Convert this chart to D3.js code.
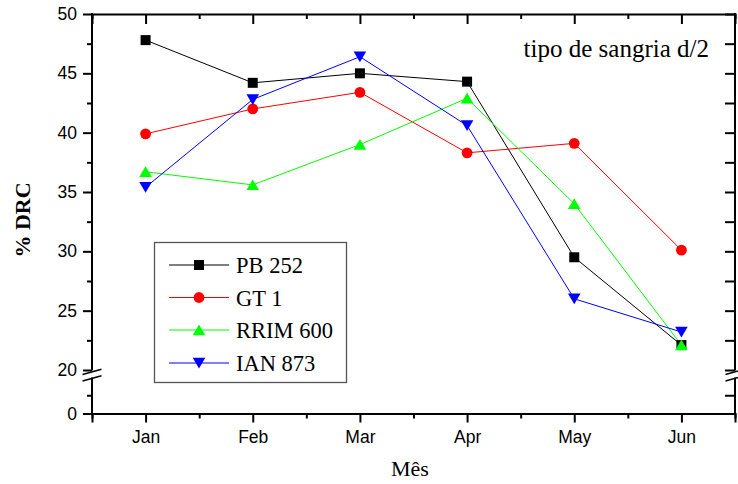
<!DOCTYPE html>
<html>
<head>
<meta charset="utf-8">
<script src="https://cdn.jsdelivr.net/npm/d3@7"></script>
<style>
  html, body { margin: 0; padding: 0; background: #fff; }
  svg { display: block; }
</style>
</head>
<body>
<script>
// Monthly rubber content (% DRC) per clone, tapping system d/2
const months = ["Jan", "Feb", "Mar", "Apr", "May", "Jun"];
const pb252   = [47.8, 44.2, 45.0, 44.3, 29.5, 22.1];
const gt1     = [39.9, 42.0, 43.4, 38.3, 39.1, 30.1];
const rrim600 = [36.7, 35.6, 39.0, 42.9, 34.0, 22.1];
const ian873  = [35.4, 42.8, 46.4, 40.6, 26.0, 23.2];
const seriesNames = ["PB 252", "GT 1", "RRIM 600", "IAN 873"];
const upperTicks = [20, 25, 30, 35, 40, 45, 50];
const lowerTicks = [0];

const W = 738, H = 484;
const plotL = 92, plotR = 735, plotT = 14, plotB = 413.5;

const svg = d3.select("body").append("svg").attr("width", W).attr("height", H);

const x = d3.scaleLinear().domain([0.5, 6.5]).range([plotL, plotR]);
// broken value axis: 20–50 above the break, 0–10 below it
const yUp = d3.scaleLinear().domain([20, 50]).range([370, plotT]);
const yLo = d3.scaleLinear().domain([0, 10]).range([plotB, 377]);

const series = [
  { name: seriesNames[0], values: pb252,   color: "#000000", shape: "square" },
  { name: seriesNames[1], values: gt1,     color: "#ff0000", shape: "circle" },
  { name: seriesNames[2], values: rrim600, color: "#00ff00", shape: "up" },
  { name: seriesNames[3], values: ian873,  color: "#0000ff", shape: "down" }
];

function markerPath(shape) {
  if (shape === "square") return "M-5,-5H5V5H-5Z";
  if (shape === "circle") return d3.symbol(d3.symbolCircle, Math.PI * 5.4 * 5.4)();
  if (shape === "up") return "M0,-5.5L6.3,5.2L-6.3,5.2Z";
  return "M0,5.5L6.3,-5.2L-6.3,-5.2Z";
}

const axisFont = "'Liberation Sans', Arial, sans-serif";
const serifFont = "'Liberation Serif', 'Times New Roman', serif";

// ---- axes ----
const majorMonths = d3.range(1, 7);
const minorMonths = d3.range(0.5, 7, 1);

// bottom
const gB = svg.append("g").attr("transform", `translate(0,${plotB})`);
gB.call(d3.axisBottom(x).tickValues(majorMonths).tickSize(9).tickPadding(8)
  .tickFormat(d => months[d - 1]));
gB.append("g").call(d3.axisBottom(x).tickValues(minorMonths).tickSize(5).tickFormat(""))
  .select(".domain").remove();

// top (inward ticks)
const gT = svg.append("g").attr("transform", `translate(0,${plotT})`);
gT.call(d3.axisBottom(x).tickValues(majorMonths).tickSize(10).tickFormat(""));
gT.append("g").call(d3.axisBottom(x).tickValues(minorMonths).tickSize(5).tickFormat(""))
  .select(".domain").remove();

// left, upper segment
const minorUp = d3.range(22.5, 50, 5);
const gL = svg.append("g").attr("transform", `translate(${plotL},0)`);
gL.call(d3.axisLeft(yUp).tickValues(upperTicks).tickSize(9).tickPadding(6));
gL.append("g").call(d3.axisLeft(yUp).tickValues(minorUp).tickSize(5).tickFormat(""))
  .select(".domain").remove();
// left, lower segment
const gL2 = svg.append("g").attr("transform", `translate(${plotL},0)`);
gL2.call(d3.axisLeft(yLo).tickValues(lowerTicks).tickSize(9).tickPadding(6));
gL2.append("g").call(d3.axisLeft(yLo).tickValues([5]).tickSize(5).tickFormat(""))
  .select(".domain").remove();

// right (inward ticks, no labels)
const gR = svg.append("g").attr("transform", `translate(${plotR},0)`);
gR.call(d3.axisRight(yUp).tickValues(d3.range(20, 50.1, 2.5)).tickSize(-10).tickFormat(""));
const gR2 = svg.append("g").attr("transform", `translate(${plotR},0)`);
gR2.call(d3.axisRight(yLo).tickValues([0, 5]).tickSize(-10).tickFormat(""));

svg.selectAll(".domain").attr("stroke", "#000").attr("stroke-width", 2);
svg.selectAll(".tick line").attr("stroke", "#000").attr("stroke-width", 2);
svg.selectAll(".tick text").attr("font-family", axisFont).attr("font-size", 17.5).attr("fill", "#000");

// vertical frame lines drawn separately so the break gap shows
[gL, gL2, gR, gR2].forEach(g => g.select(".domain").remove());
[plotL, plotR].forEach(px => {
  svg.append("line").attr("x1", px).attr("x2", px).attr("y1", plotT - 1).attr("y2", 370.5)
    .attr("stroke", "#000").attr("stroke-width", 2);
  svg.append("line").attr("x1", px).attr("x2", px).attr("y1", 377.5).attr("y2", plotB + 1)
    .attr("stroke", "#000").attr("stroke-width", 2);
  // break marks
  [0, 6.5].forEach(off => {
    svg.append("line")
      .attr("x1", px - 9.5).attr("y1", 374.5 + off)
      .attr("x2", px + 9.5).attr("y2", 369.2 + off)
      .attr("stroke", "#000").attr("stroke-width", 1.6);
  });
});

// ---- series ----
const line = d3.line().x((d, i) => x(i + 1)).y(d => yUp(d));
series.forEach(s => {
  svg.append("path").datum(s.values).attr("d", line)
    .attr("fill", "none").attr("stroke", s.color).attr("stroke-width", 1);
});
series.forEach(s => {
  svg.append("g").selectAll("path").data(s.values).join("path")
    .attr("transform", (d, i) => `translate(${x(i + 1)},${yUp(d)})`)
    .attr("d", markerPath(s.shape)).attr("fill", s.color);
});

// ---- legend ----
const lg = svg.append("g");
lg.append("rect").attr("x", 154.5).attr("y", 242.5).attr("width", 192).attr("height", 140)
  .attr("fill", "#fff").attr("stroke", "#555").attr("stroke-width", 1.3);
const rowY = [265, 297.5, 330, 363];
series.forEach((s, i) => {
  const gy = rowY[i];
  lg.append("line").attr("x1", 169).attr("x2", 229).attr("y1", gy).attr("y2", gy)
    .attr("stroke", s.color).attr("stroke-width", 1);
  lg.append("path").attr("transform", `translate(199,${gy})`).attr("d", markerPath(s.shape))
    .attr("fill", s.color);
  lg.append("text").attr("x", 236).attr("y", gy + 8).text(s.name)
    .attr("font-family", serifFont).attr("font-size", 22.5).attr("fill", "#000");
});

// ---- titles ----
svg.append("text").attr("x", 709).attr("y", 57).attr("text-anchor", "end")
  .attr("font-family", serifFont).attr("font-size", 25).attr("fill", "#000")
  .text("tipo de sangria d/2");

svg.append("text").attr("x", 410).attr("y", 476).attr("text-anchor", "middle")
  .attr("font-family", serifFont).attr("font-size", 22).attr("fill", "#000")
  .text("Mês");

svg.append("text").attr("transform", "translate(30,220) rotate(-90)").attr("text-anchor", "middle")
  .attr("font-family", serifFont).attr("font-size", 22).attr("font-weight", "bold").attr("fill", "#000")
  .text("% DRC");
</script>
</body>
</html>
